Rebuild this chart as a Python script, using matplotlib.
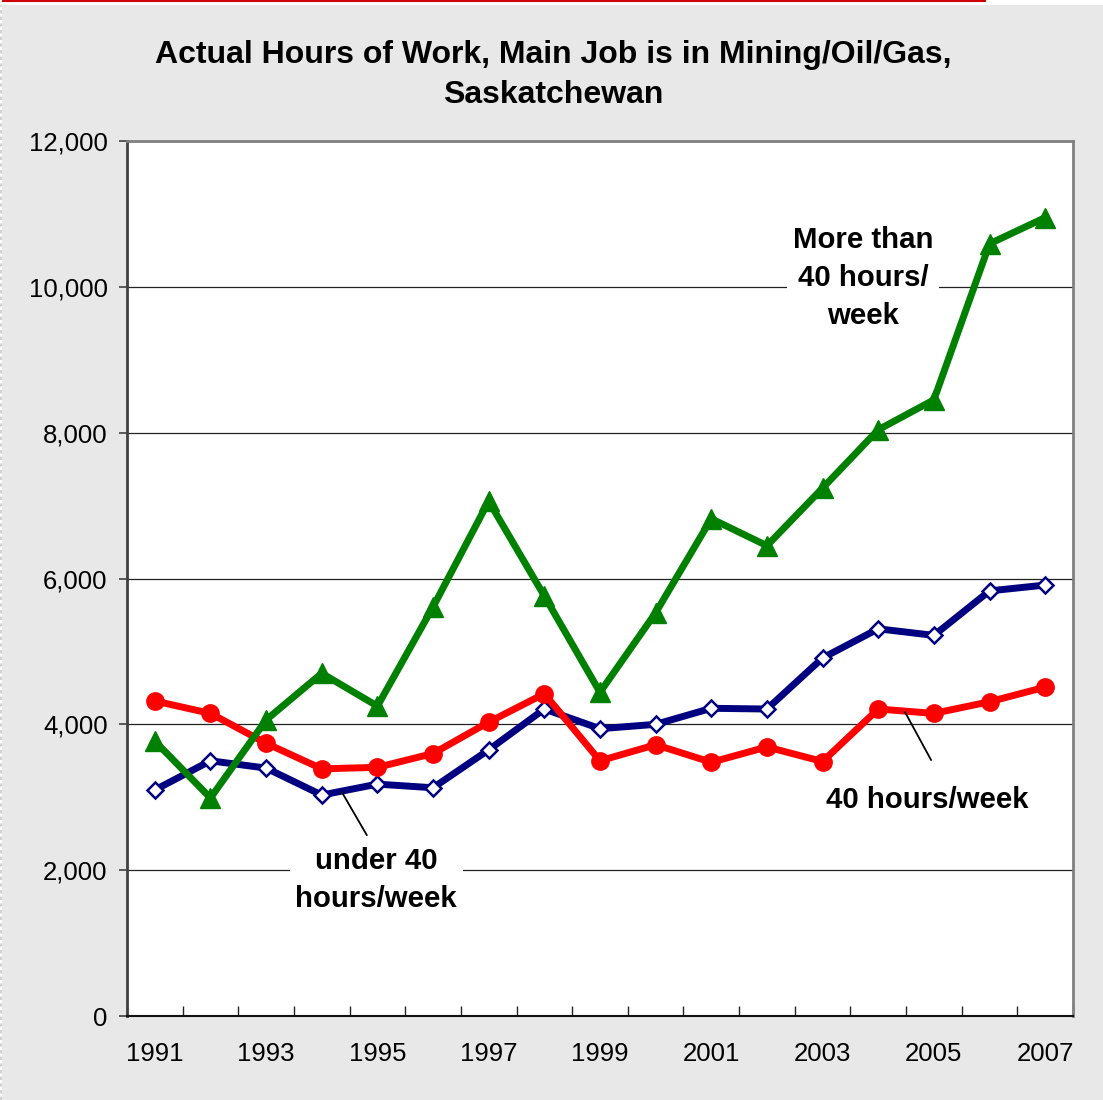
import numpy as np
import matplotlib
matplotlib.use('Agg')
import matplotlib.pyplot as plt
from matplotlib.patches import Rectangle
from matplotlib.lines import Line2D

plt.rcParams['font.family'] = ['Liberation Sans', 'DejaVu Sans']

years = list(range(1991, 2008))
under_40 = [3100, 3500, 3400, 3030, 3180, 3130, 3650, 4210, 3940, 4000,
            4220, 4210, 4910, 5310, 5220, 5830, 5910]
exactly_40 = [4320, 4150, 3740, 3390, 3410, 3600, 4030, 4420, 3500, 3720,
              3480, 3690, 3490, 4210, 4150, 4310, 4510]
over_40 = [3770, 2990, 4060, 4700, 4250, 5610, 7060, 5760, 4440, 5530,
           6820, 6450, 7240, 8040, 8450, 10590, 10950]
y_ticks = [0, 2000, 4000, 6000, 8000, 10000, 12000]

W, H = 1103, 1100
fig = plt.figure(figsize=(W / 100, H / 100), dpi=100)
fig.patch.set_facecolor('white')

# grey panel, red rule on top, dashed left edge
fig.add_artist(Rectangle((2 / W, 0), 1 - 2 / W, 1 - 5 / H, transform=fig.transFigure,
                         facecolor='#E8E8E8', edgecolor='none', zorder=0))
fig.add_artist(Line2D([3 / W, 985 / W], [1 - 1 / H, 1 - 1 / H], transform=fig.transFigure,
                      color='#CC0000', lw=1.5))
fig.add_artist(Line2D([1 / W, 1 / W], [0, 1 - 5 / H], transform=fig.transFigure,
                      color='#C8C8C8', lw=1.2, ls=(0, (2, 2))))

ax = fig.add_axes([127 / W, 1 - 1016 / H, (1073 - 127) / W, (1016 - 141) / H])
ax.set_facecolor('white')

x = np.arange(len(years))
ax.plot(x, under_40, color='#000080', lw=5, marker='D', ms=8.5, mfc='white',
        mec='#000080', mew=1.8, zorder=3)
ax.plot(x, exactly_40, color='#FF0000', lw=5, marker='o', ms=12.5, mfc='#FF0000',
        mec='#FF0000', zorder=4)
ax.plot(x, over_40, color='#008000', lw=5, marker='^', ms=14, mfc='#008000',
        mec='#008000', zorder=5)

ax.set_xlim(-0.5, len(years) - 0.5)
ax.set_ylim(0, 12000)
ax.set_yticks(y_ticks)
ax.set_yticklabels([f'{v:,}' for v in y_ticks], fontsize=18.5)
ax.tick_params(axis='y', direction='out', length=6, width=1.2, color='#404040', pad=8)

ax.set_xticks(x[::2])
ax.set_xticklabels([str(y) for y in years[::2]], fontsize=18.5)
ax.set_xticks(np.arange(len(years) + 1) - 0.5, minor=True)
ax.tick_params(axis='x', which='major', length=0, pad=19)
ax.tick_params(axis='x', which='minor', direction='in', length=7, width=1.0, color='#222222')

for v in y_ticks[1:-1]:
    ax.axhline(v, color='#222222', lw=0.9, zorder=1)

ax.spines['left'].set_color('#404040')
ax.spines['left'].set_linewidth(2)
ax.spines['bottom'].set_color('#111111')
ax.spines['bottom'].set_linewidth(1.5)
ax.spines['top'].set_color('#808080')
ax.spines['top'].set_linewidth(2)
ax.spines['right'].set_color('#808080')
ax.spines['right'].set_linewidth(2)

# series labels with leader lines
box = dict(facecolor='white', edgecolor='none', pad=4)
lead = dict(arrowstyle='-', color='black', lw=1.3, shrinkA=0, shrinkB=0)
ax.text(12.73, 10120, 'More than\n40 hours/\nweek', ha='center', va='center',
        fontsize=21.2, fontweight='bold', linespacing=1.45, bbox=box, zorder=6)
ax.text(3.98, 1870, 'under 40\nhours/week', ha='center', va='center',
        fontsize=21.2, fontweight='bold', linespacing=1.45, bbox=box, zorder=6)
ax.annotate('', xy=(3.36, 3072), xytext=(3.81, 2480), arrowprops=lead, zorder=6)
ax.text(13.88, 2960, '40 hours/week', ha='center', va='center',
        fontsize=21.2, fontweight='bold', bbox=box, zorder=6)
ax.annotate('', xy=(13.48, 4170), xytext=(13.95, 3510), arrowprops=lead, zorder=6)

fig.text(553 / W, 1 - 75 / H,
         'Actual Hours of Work, Main Job is in Mining/Oil/Gas,\nSaskatchewan',
         ha='center', va='center', fontsize=23, fontweight='bold', linespacing=1.4)

fig.savefig('out.png', dpi=100, facecolor=fig.get_facecolor())
